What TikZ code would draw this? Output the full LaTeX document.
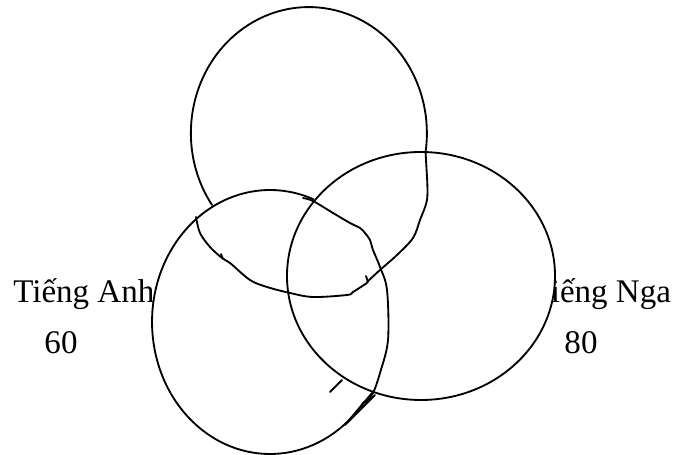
\documentclass[tikz,border=0pt]{standalone}
\usepackage{fontspec}
\setmainfont{Liberation Serif}
\usepackage{tikz}
\usetikzlibrary{positioning, calc}
\tikzset{
  lang/.style={anchor=base west, inner sep=0pt, font=\fontsize{18.8pt}{22pt}\selectfont},
  numtext/.style={anchor=base, inner sep=0pt, font=\fontsize{18.8pt}{22pt}\selectfont},
  ring/.style={draw=black, line width=1.05pt, line cap=round, line join=round},
  wobble/.style={ring, smooth, tension=0.55},
}

\begin{document}
\begin{tikzpicture}[x=0.02cm, y=0.02cm]
\useasboundingbox (0,0) rectangle (673,455);

\node[lang] (anh) at (13,152) {Tiếng Anh};
\node[numtext] (n60) at (61,101) {60};
\node[lang] (nga) at (531.5,152) {Tiếng Nga};
\node[numtext] (n80) at (581,101) {80};

\fill[white] (421,179) ellipse[x radius=134, y radius=124];
\draw[ring] (421,179) ellipse[x radius=134, y radius=124];

\draw[ring] (212,250) arc[start angle=214.8, end angle=-8.6, x radius=118, y radius=126]
  -- plot[smooth, tension=0.55] coordinates {(427,278) (427,255) (420,235) (413,217) (397,200) (380,185) (367,173)};
\draw[wobble] plot coordinates {(196,238) (200,222) (210,208) (222,197) (230,192) (250,175) (267,168) (290,162) (313,158) (347,160) (353,163) (367,172)};
\draw[ring] (221,201) -- (223,196);
\draw[ring] (366,179) -- (368,173);

\draw[ring] (363.9,53) arc[start angle=-37.3, end angle=-291.5, x radius=118, y radius=132];
\draw[wobble] plot coordinates {(303,257) (313,254) (333,242) (350,232) (360,227) (365,222) (370,215) (373,205) (380,188) (387,165) (388,115) (380,82) (373,62) (365,52)};
\draw[ring] (375,60) -- (347,32);
\draw[ring] (372,62) -- (345,30);
\draw[ring] (330,63) -- (342,75);
\end{tikzpicture}
\end{document}
